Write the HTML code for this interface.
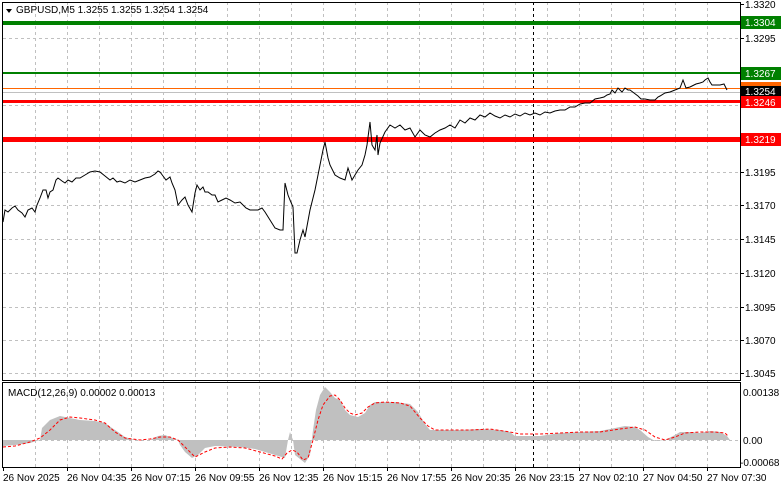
<!DOCTYPE html>
<html><head><meta charset="utf-8"><style>
html,body{margin:0;padding:0;background:#fff;}
svg{display:block;font-family:"Liberation Sans",sans-serif;}
</style></head><body>
<svg width="781" height="489" viewBox="0 0 781 489" xmlns="http://www.w3.org/2000/svg">
<rect width="781" height="489" fill="#fff"/>
<g stroke="#c0c0c0" stroke-dasharray="3,3" stroke-width="1">
<line x1="3" y1="38.5" x2="740" y2="38.5"/><line x1="3" y1="105.5" x2="740" y2="105.5"/>
<line x1="3" y1="172.5" x2="740" y2="172.5"/><line x1="3" y1="205.5" x2="740" y2="205.5"/>
<line x1="3" y1="239.5" x2="740" y2="239.5"/><line x1="3" y1="273.5" x2="740" y2="273.5"/>
<line x1="3" y1="307.5" x2="740" y2="307.5"/><line x1="3" y1="340.5" x2="740" y2="340.5"/>
<line x1="3" y1="373.5" x2="740" y2="373.5"/><line x1="3" y1="72.5" x2="740" y2="72.5"/>
<line x1="3" y1="138.5" x2="740" y2="138.5"/>
<line x1="3" y1="440.5" x2="740" y2="440.5"/>
</g>
<g stroke="#c0c0c0" stroke-dasharray="3,3" stroke-width="1" id="vg">
<line x1="35.5" y1="2" x2="35.5" y2="467"/><line x1="67.5" y1="2" x2="67.5" y2="467"/>
<line x1="99.5" y1="2" x2="99.5" y2="467"/><line x1="131.5" y1="2" x2="131.5" y2="467"/>
<line x1="163.5" y1="2" x2="163.5" y2="467"/><line x1="195.5" y1="2" x2="195.5" y2="467"/>
<line x1="227.5" y1="2" x2="227.5" y2="467"/><line x1="259.5" y1="2" x2="259.5" y2="467"/>
<line x1="291.5" y1="2" x2="291.5" y2="467"/><line x1="323.5" y1="2" x2="323.5" y2="467"/>
<line x1="355.5" y1="2" x2="355.5" y2="467"/><line x1="387.5" y1="2" x2="387.5" y2="467"/>
<line x1="419.5" y1="2" x2="419.5" y2="467"/><line x1="451.5" y1="2" x2="451.5" y2="467"/>
<line x1="483.5" y1="2" x2="483.5" y2="467"/><line x1="515.5" y1="2" x2="515.5" y2="467"/>
<line x1="547.5" y1="2" x2="547.5" y2="467"/><line x1="579.5" y1="2" x2="579.5" y2="467"/>
<line x1="611.5" y1="2" x2="611.5" y2="467"/><line x1="643.5" y1="2" x2="643.5" y2="467"/>
<line x1="675.5" y1="2" x2="675.5" y2="467"/><line x1="707.5" y1="2" x2="707.5" y2="467"/>
</g>
<line x1="533.5" y1="2" x2="533.5" y2="467" stroke="#000" stroke-dasharray="3,3"/>
<!-- levels -->
<rect x="3" y="21" width="737" height="4" fill="#008000"/>
<rect x="3" y="72" width="737" height="2" fill="#008000"/>
<line x1="3" y1="88.5" x2="740" y2="88.5" stroke="#ff6600"/>
<line x1="3" y1="92.5" x2="740" y2="92.5" stroke="#c0c0c0"/>
<rect x="3" y="100" width="737" height="3" fill="#ff0000"/>
<rect x="3" y="137" width="737" height="5" fill="#ff0000"/>
<!-- price -->
<polyline fill="none" stroke="#000" stroke-width="1" points="3,222 5,210 8,212 12,208 15,206 18,210 22,213 25,217 28,210 32,208 35,212 37,205 40,198 43,190 46,190 48,198 50,192 53,190 56,180 58,178 62,181 65,183 68,180 72,182 76,178 80,178 85,175 90,172 95,171 100,172 105,176 110,180 113,178 117,182 120,181 125,183 130,180 135,182 140,180 145,178 150,177 155,174 158,171 160,172 163,176 166,180 170,177 172,183 175,190 178,205 182,200 185,197 188,205 192,212 195,193 197,185 200,190 203,187 205,192 208,192 212,195 215,195 218,202 222,200 226,198 230,200 235,203 240,202 243,205 246,208 250,210 255,210 258,210 262,208 265,212 270,220 275,228 280,230 283,230 285,183 288,195 290,200 293,207 295,253 297,253 300,240 303,230 305,237 310,210 315,190 320,165 323,150 325,142 328,158 330,165 335,175 340,178 345,180 348,168 352,180 355,175 358,170 362,165 365,155 367,145 370,122 372,145 375,150 377,135 378,155 380,143 385,132 390,125 395,128 400,125 405,130 410,128 415,137 420,130 425,135 430,137 435,133 440,130 445,128 450,125 455,128 460,120 465,123 470,118 475,120 480,115 485,117 490,113 495,116 500,118 505,115 510,117 515,114 520,116 525,113 530,115 535,113 540,115 545,112 550,113 555,111 560,110 565,110 570,107 575,107 580,104 585,103 590,103 595,99 600,98 604,97 607,95 610,94 612,90 615,93 618,88 622,92 625,88 628,90 630,90 634,93 638,96 641,99 645,99 650,100 655,100 658,97 660,96 665,93 670,92 675,90 680,88 683,80 686,88 690,87 692,86 696,84 700,83 703,82 705,80 708,78 710,82 712,85 716,85 720,85 724,84 727,90"/>
<!-- macd histogram -->
<polygon fill="#c0c0c0" points="3,440 3,446 15,445 30,443 40,440 42,428 50,420 60,416 70,418 80,420 95,421 105,423 112,428 118,432 125,437 135,440 150,440 158,436 165,435 170,437 178,440 180,445 185,452 192,458 198,455 205,448 215,446 240,447 255,449 265,452 275,455 285,458 288,440 290,432 293,440 295,455 305,463 310,455 313,430 316,410 320,395 325,387 330,392 335,398 340,400 345,410 350,415 358,417 365,413 370,405 375,402 385,402 395,402 402,403 410,404 418,412 425,424 430,430 440,430 460,430 480,429 500,430 510,432 515,436 540,436 560,433 580,432 600,431 615,428 625,426 635,427 640,430 648,437 655,441 665,440 675,435 680,432 690,432 700,433 710,431 720,432 727,436 730,440"/>
<polyline fill="none" stroke="#ff0000" stroke-width="1" stroke-dasharray="3,2" points="3,447 15,446 30,442 40,438 50,430 60,420 70,417 80,418 95,420 105,423 115,432 125,438 140,440 150,439 160,437 170,437 178,440 185,447 190,452 195,457 205,452 215,448 230,447 245,448 260,452 275,456 282,459 287,453 292,450 297,452 303,460 308,458 313,440 318,420 323,405 330,396 335,395 340,400 345,408 350,413 355,415 362,413 368,407 375,403 385,402 400,403 410,406 420,418 428,426 435,430 450,430 470,430 490,429 510,432 520,434 540,434 560,433 580,432 600,432 620,429 635,427 645,430 655,437 665,440 675,437 685,433 700,432 715,432 725,433 728,436"/>
<!-- borders -->
<rect x="2.5" y="2.5" width="738" height="378" fill="none" stroke="#000"/>
<rect x="2.5" y="382.5" width="738" height="85" fill="none" stroke="#000"/>
<!-- title -->
<polygon points="6,9 12,9 9,13" fill="#000"/>
<text x="16" y="13" font-size="10" fill="#000">GBPUSD,M5  1.3255 1.3255 1.3254 1.3254</text>
<text x="8" y="396" font-size="10" fill="#000">MACD(12,26,9) 0.00002 0.00013</text>
<!-- price axis -->
<g font-size="10" fill="#000">
<text x="745" y="8">1.3320</text>
<text x="745" y="42">1.3295</text>
<text x="745" y="176">1.3195</text>
<text x="745" y="209">1.3170</text>
<text x="745" y="243">1.3145</text>
<text x="745" y="277">1.3120</text>
<text x="745" y="311">1.3095</text>
<text x="745" y="344">1.3070</text>
<text x="745" y="377">1.3045</text>
<text x="743" y="396">0.00138</text>
<text x="743" y="444">0.00</text>
<text x="740" y="466">-0.00068</text>
</g>
<g stroke="#000"><line x1="740" y1="4.5" x2="744" y2="4.5"/><line x1="740" y1="38.5" x2="744" y2="38.5"/><line x1="740" y1="172.5" x2="744" y2="172.5"/><line x1="740" y1="205.5" x2="744" y2="205.5"/><line x1="740" y1="239.5" x2="744" y2="239.5"/><line x1="740" y1="273.5" x2="744" y2="273.5"/><line x1="740" y1="307.5" x2="744" y2="307.5"/><line x1="740" y1="340.5" x2="744" y2="340.5"/><line x1="740" y1="373.5" x2="744" y2="373.5"/></g>
<rect x="741" y="16" width="40" height="13" fill="#008000"/><text x="745" y="26" font-size="10" fill="#fff">1.3304</text>
<rect x="741" y="67" width="40" height="13" fill="#008000"/><text x="745" y="77" font-size="10" fill="#fff">1.3267</text>
<rect x="741" y="82" width="40" height="8" fill="#ff6600"/>
<rect x="741" y="86" width="40" height="11" fill="#000"/><text x="745" y="95" font-size="10" fill="#fff">1.3254</text>
<rect x="741" y="96" width="40" height="12" fill="#ff0000"/><text x="745" y="106" font-size="10" fill="#fff">1.3246</text>
<rect x="741" y="133" width="40" height="13" fill="#ff0000"/><text x="745" y="143" font-size="10" fill="#fff">1.3219</text>
<!-- time axis -->
<g font-size="10" fill="#000">
<text x="3" y="481">26 Nov 2025</text>
<text x="67" y="481">26 Nov 04:35</text>
<text x="131" y="481">26 Nov 07:15</text>
<text x="195" y="481">26 Nov 09:55</text>
<text x="259" y="481">26 Nov 12:35</text>
<text x="323" y="481">26 Nov 15:15</text>
<text x="387" y="481">26 Nov 17:55</text>
<text x="451" y="481">26 Nov 20:35</text>
<text x="515" y="481">26 Nov 23:15</text>
<text x="579" y="481">27 Nov 02:10</text>
<text x="643" y="481">27 Nov 04:50</text>
<text x="707" y="481">27 Nov 07:30</text>
</g>
<g stroke="#000"><line x1="3.5" y1="467" x2="3.5" y2="471"/><line x1="67.5" y1="467" x2="67.5" y2="471"/><line x1="131.5" y1="467" x2="131.5" y2="471"/><line x1="195.5" y1="467" x2="195.5" y2="471"/><line x1="259.5" y1="467" x2="259.5" y2="471"/><line x1="323.5" y1="467" x2="323.5" y2="471"/><line x1="387.5" y1="467" x2="387.5" y2="471"/><line x1="451.5" y1="467" x2="451.5" y2="471"/><line x1="515.5" y1="467" x2="515.5" y2="471"/><line x1="579.5" y1="467" x2="579.5" y2="471"/><line x1="643.5" y1="467" x2="643.5" y2="471"/><line x1="707.5" y1="467" x2="707.5" y2="471"/></g>
</svg>
</body></html>
